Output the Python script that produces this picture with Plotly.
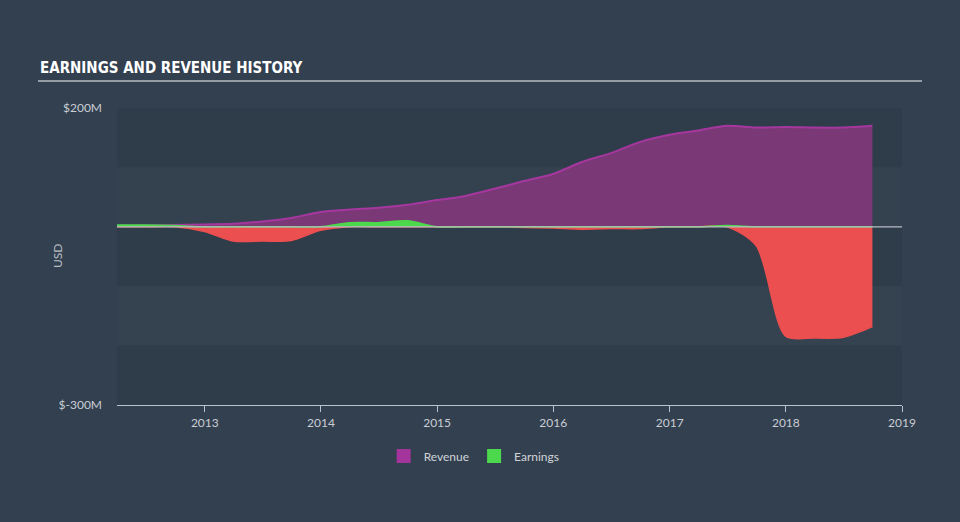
import plotly.graph_objects as go

dates = ["2012-03-31", "2012-06-30", "2012-09-30", "2012-12-31",
         "2013-03-31", "2013-06-30", "2013-09-30", "2013-12-31",
         "2014-03-31", "2014-06-30", "2014-09-30", "2014-12-31",
         "2015-03-31", "2015-06-30", "2015-09-30", "2015-12-31",
         "2016-03-31", "2016-06-30", "2016-09-30", "2016-12-31",
         "2017-03-31", "2017-06-30", "2017-09-30", "2017-12-31",
         "2018-03-31", "2018-06-30", "2018-09-30"]
revenue = [2, 2, 3, 4, 5, 9, 15, 25, 29, 32, 37, 45, 52, 64, 77, 89,
           109, 124, 143, 155, 162, 170, 167, 168, 167, 167, 170]
earnings = [3, 3, 2, -8, -24, -24, -23, -6, 7, 7, 10, 0, 0, 0, -1, -2,
            -4, -3, -3, 0, 0, 2, -32, -184, -187, -186, -168]
year_ticks = ["2013-01-01", "2014-01-01", "2015-01-01", "2016-01-01",
              "2017-01-01", "2018-01-01", "2019-01-01"]
year_labels = ["2013", "2014", "2015", "2016", "2017", "2018", "2019"]
y_ticks = [200, -300]
y_labels = ["$200M", "$-300M"]

pos = [max(e, 0) for e in earnings]
neg = [min(e, 0) for e in earnings]

PURPLE_LINE = "#a6379f"
PURPLE_FILL = "#7a3876"
GREEN = "#4cd84c"
RED = "#ec4f4f"
TICK_FONT = dict(family="Lato, Open Sans, sans-serif", size=12, color="#c9ced4")

fig = go.Figure()
fig.add_trace(go.Scatter(x=dates, y=revenue, mode="lines", line=dict(color=PURPLE_LINE, width=2, shape="spline", smoothing=0.8),
                         fill="tozeroy", fillcolor=PURPLE_FILL, showlegend=False, hoverinfo="skip"))
fig.add_trace(go.Scatter(x=dates, y=neg, mode="lines", line=dict(color=RED, width=1.5, shape="spline", smoothing=0.8),
                         fill="tozeroy", fillcolor=RED, showlegend=False, hoverinfo="skip"))
fig.add_trace(go.Scatter(x=dates, y=pos, mode="lines", line=dict(color=GREEN, width=1.5, shape="spline", smoothing=0.8),
                         fill="tozeroy", fillcolor=GREEN, showlegend=False, hoverinfo="skip"))
fig.add_trace(go.Scatter(x=[None], y=[None], mode="markers", name="Revenue",
                         marker=dict(symbol="square", size=14, color="#a3349c")))
fig.add_trace(go.Scatter(x=[None], y=[None], mode="markers", name="Earnings",
                         marker=dict(symbol="square", size=14, color=GREEN)))

shapes = []
bands = [(100, 200, "#2f3c4a"), (0, 100, "#34424f"), (-100, 0, "#2f3c4a"),
         (-200, -100, "#354350"), (-300, -200, "#2f3c4a")]
for y0, y1, c in bands:
    shapes.append(dict(type="rect", xref="paper", yref="y", x0=0, x1=1, y0=y0, y1=y1,
                       fillcolor=c, line=dict(width=0), layer="below"))
shapes.append(dict(type="line", xref="paper", yref="y", x0=0, x1=1, y0=0, y1=0,
                   line=dict(color="#b9bec4", width=1.2), layer="above"))
shapes.append(dict(type="line", xref="paper", yref="paper", x0=(38 - 117) / 785, x1=(922 - 117) / 785,
                   y0=(405 - 81) / 297, y1=(405 - 81) / 297, line=dict(color="#b8bcc2", width=1.5)))

fig.update_layout(
    width=960, height=522,
    margin=dict(l=117, r=58, t=108, b=117),
    paper_bgcolor="#334050", plot_bgcolor="rgba(0,0,0,0)",
    shapes=shapes,
    showlegend=True,
    legend=dict(orientation="h", x=0.455, xanchor="center", y=-0.172, yanchor="middle",
                font=dict(family="Lato, Open Sans, sans-serif", size=12, color="#d0d4d8"),
                bgcolor="rgba(0,0,0,0)", itemwidth=30, tracegroupgap=0),
    annotations=[
        dict(text="<b>EARNINGS AND REVENUE HISTORY</b>", xref="paper", yref="paper",
             x=(38 - 117) / 785, y=(405 - 68) / 297, xanchor="left", yanchor="middle", showarrow=False,
             font=dict(family="Liberation Sans Narrow, DejaVu Sans Condensed, sans-serif", size=15, color="#ffffff")),
        dict(text="USD", xref="paper", yref="paper", x=(57 - 117) / 785, y=(405 - 256) / 297,
             xanchor="center", yanchor="middle", textangle=-90, showarrow=False,
             font=dict(family="Lato, Open Sans, sans-serif", size=12, color="#b9bec4")),
    ],
    xaxis=dict(type="date", range=["2012-03-31", "2019-01-01"], tickvals=year_ticks, ticktext=year_labels,
               showgrid=False, zeroline=False, showline=True, linecolor="#b7c3cf", linewidth=1.2,
               ticks="outside", ticklen=6, tickcolor="#b7c3cf", tickfont=TICK_FONT),
    yaxis=dict(range=[-300, 200], tickvals=y_ticks, ticktext=y_labels, showgrid=False, zeroline=False,
               showline=False, ticks="", tickfont=TICK_FONT, ticklabelstandoff=14),
)

fig.write_html("out.html")
